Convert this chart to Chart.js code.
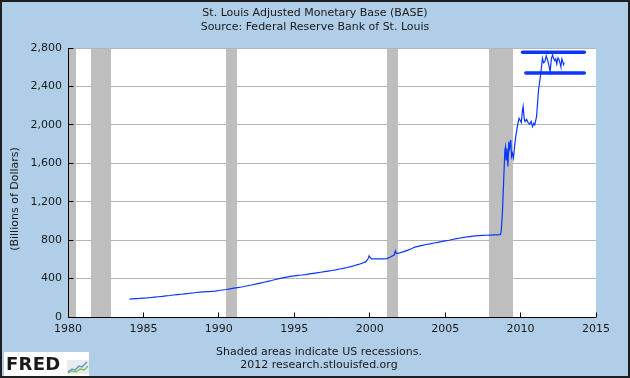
<!DOCTYPE html>
<html><head><meta charset="utf-8">
<script src="https://cdn.jsdelivr.net/npm/chart.js@4.4.1/dist/chart.umd.min.js"></script>
<style>
html,body{margin:0;padding:0;background:#B0CEE8;}
#wrap{position:relative;width:630px;height:378px;overflow:hidden;}
canvas{position:absolute;left:0;top:0;}
#frame{position:absolute;left:0;top:0;width:630px;height:378px;box-sizing:border-box;border:2px solid #1e1e1e;pointer-events:none;}
.foot{position:absolute;left:0;width:638px;text-align:center;font:11px "DejaVu Sans";line-height:13px;color:#1a1a1a;white-space:nowrap;}
#logo{position:absolute;left:4px;top:352px;width:85px;height:26px;background:#fff;}
#logo span{position:absolute;left:2px;top:1px;font:bold 18px "DejaVu Sans";line-height:22px;color:#1a1a1a;letter-spacing:0.3px;}
#logo svg{position:absolute;left:63px;top:8px;}
</style></head>
<body><div id="wrap"><canvas id="c" width="630" height="378"></canvas>
<div class="foot" style="top:345px">Shaded areas indicate US recessions.</div>
<div class="foot" style="top:358px">2012 research.stlouisfed.org</div>
<div id="logo"><span>FRED</span><svg width="22" height="14" viewBox="0 0 22 14"><rect x="0" y="0" width="22" height="14" fill="#e8ecef"/><polyline points="1,12 5,9 8,10 12,6 15,7 20,2" fill="none" stroke="#5a8fc8" stroke-width="1.3"/><polyline points="1,13 5,11 9,12 13,9 17,10 21,6" fill="none" stroke="#7cbf5a" stroke-width="1.3"/></svg></div>
<div id="frame"></div></div>
<script>
const years = [
1984.08,1984.25,1984.5,1984.75,1985.0,1985.25,1985.5,1985.75,1986.0,1986.25,1986.5,1986.75,
1987.0,1987.25,1987.5,1987.75,1988.0,1988.25,1988.5,1988.75,1989.0,1989.25,1989.5,1989.75,
1990.0,1990.25,1990.5,1990.75,1991.0,1991.25,1991.5,1991.75,1992.0,1992.25,1992.5,1992.75,
1993.0,1993.25,1993.5,1993.75,1994.0,1994.25,1994.5,1994.75,1995.0,1995.25,1995.5,1995.75,
1996.0,1996.25,1996.5,1996.75,1997.0,1997.25,1997.5,1997.75,1998.0,1998.25,1998.5,1998.75,
1999.0,1999.25,1999.5,1999.75,1999.9,1999.96,2000.04,2000.12,2000.5,2000.9,2001.15,2001.4,
2001.62,2001.7,2001.76,2001.9,2002.25,2002.5,2002.75,2003.0,2003.25,2003.5,2003.75,2004.0,
2004.25,2004.5,2004.75,2005.0,2005.25,2005.5,2005.75,2006.0,2006.25,2006.5,2006.75,2007.0,
2007.25,2007.5,2007.75,2008.0,2008.25,2008.5,2008.67,2008.72,2008.8,2008.88,2008.96,2009.0,
2009.04,2009.1,2009.16,2009.22,2009.28,2009.35,2009.4,2009.46,2009.53,2009.6,2009.68,2009.8,
2009.9,2010.05,2010.12,2010.17,2010.24,2010.3,2010.4,2010.5,2010.6,2010.7,2010.79,2010.87,
2010.94,2011.06,2011.19,2011.34,2011.45,2011.52,2011.61,2011.7,2011.79,2011.88,2011.96,2012.04,
2012.12,2012.2,2012.27,2012.33,2012.4,2012.48,2012.56,2012.62,2012.67,2012.74,2012.8,2012.85,
2012.89];
const base = [
187,189,191,193,196,199,203,207,211,215,220,224,
229,233,237,241,245,250,255,259,262,264,266,270,
276,281,286,293,300,306,312,320,328,336,344,353,
362,371,380,390,400,408,415,422,428,433,437,442,
448,454,460,466,472,478,484,491,500,507,515,525,
536,547,560,576,608,636,618,604,604,605,608,627,
645,688,660,664,680,694,710,728,738,746,755,762,
770,776,784,793,799,807,815,822,829,835,840,845,
848,850,851,853,855,855,858,898,1093,1424,1738,1772,
1635,1757,1566,1825,1757,1843,1670,1705,1654,1773,1877,1995,
2068,2025,2146,2190,2066,2034,2056,2024,2006,2036,1982,2016,
2000,2086,2363,2536,2693,2647,2658,2717,2676,2617,2554,2687,
2728,2687,2668,2687,2634,2697,2676,2637,2606,2687,2658,2627,
2648];
// hand-drawn marker bars (start year, end year, level)
const upperMark = [[2010.13, 2755], [2014.22, 2755]];
const lowerMark = [[2010.35, 2540], [2014.22, 2540]];
const recessions = [[1980.0,1980.5],[1981.5,1982.88],[1990.45,1991.17],[2001.17,2001.87],[2007.92,2009.5]];
const xTicks = [1980,1985,1990,1995,2000,2005,2010,2015];
const yTicks = [0,400,800,1200,1600,2000,2400,2800];
const titleLines = ['St. Louis Adjusted Monetary Base (BASE)','Source: Federal Reserve Bank of St. Louis'];
const yTitle = '(Billions of Dollars)';

const BG = '#B0CEE8';
const FONT = '"DejaVu Sans", Verdana, sans-serif';
function align(p){ return Math.round(p - 0.5) + 0.5; }

const decor = {
  id: 'decor',
  beforeDraw(chart){
    const {ctx, chartArea:a} = chart;
    ctx.save();
    ctx.fillStyle = BG; ctx.fillRect(0,0,chart.width,chart.height);
    ctx.fillStyle = '#fff'; ctx.fillRect(a.left, a.top, a.right-a.left, a.bottom-a.top);
    ctx.restore();
  },
  beforeDatasetsDraw(chart){
    const {ctx, chartArea:a, scales:{x,y}} = chart;
    ctx.save();
    ctx.fillStyle = '#BEBEBE';
    recessions.forEach(([s,e])=>{
      const x0 = x.getPixelForValue(s), x1 = x.getPixelForValue(e);
      ctx.fillRect(Math.round(x0), a.top+1, Math.round(x1)-Math.round(x0), a.bottom-a.top-1);
    });
    ctx.strokeStyle = '#000'; ctx.lineWidth = 1;
    ctx.beginPath();
    const lx = align(a.left), by = align(a.bottom);
    ctx.moveTo(lx, a.top); ctx.lineTo(lx, by);
    ctx.moveTo(lx, by); ctx.lineTo(a.right, by);
    yTicks.forEach(v=>{ const py = align(y.getPixelForValue(v)); ctx.moveTo(lx, py); ctx.lineTo(lx+5, py); });
    xTicks.forEach(v=>{ const px = align(x.getPixelForValue(v)); ctx.moveTo(px, by); ctx.lineTo(px, by-5); });
    ctx.stroke();
    ctx.restore();
  },
  afterDraw(chart){
    const {ctx} = chart;
    ctx.save();
    ctx.translate(15, 199);
    ctx.rotate(-Math.PI/2);
    ctx.font = '11px ' + FONT;
    ctx.fillStyle = '#1a1a1a';
    ctx.textAlign = 'center'; ctx.textBaseline = 'middle';
    ctx.fillText(yTitle, 0, 0);
    ctx.restore();
  }
};

const BLUE = '#0a35ff';
new Chart(document.getElementById('c'), {
  type: 'line',
  data: {
    datasets: [
      { data: years.map((d,i)=>({x:d, y:base[i]})), borderColor: BLUE, borderWidth: 1.2, pointRadius: 0, tension: 0, fill: false },
      { data: upperMark.map(p=>({x:p[0], y:p[1]})), borderColor: BLUE, borderWidth: 3.5, borderCapStyle: 'round', pointRadius: 0 },
      { data: lowerMark.map(p=>({x:p[0], y:p[1]})), borderColor: BLUE, borderWidth: 3.5, borderCapStyle: 'round', pointRadius: 0 }
    ]
  },
  options: {
    responsive: false,
    animation: false,
    devicePixelRatio: 1,
    layout: { padding: 0 },
    plugins: {
      legend: { display: false },
      tooltip: { enabled: false },
      title: { display: true, text: titleLines, color: '#1a1a1a', font: { family: FONT, size: 11, weight: 'normal', lineHeight: 1.2 }, padding: { top: 7, bottom: 14.6 } }
    },
    scales: {
      x: {
        type: 'linear', min: 1980, max: 2015,
        grid: { display: false, drawTicks: false },
        border: { display: false },
        ticks: { stepSize: 5, callback: v => String(v), color: '#1a1a1a', font: { family: FONT, size: 11 }, padding: 6, maxRotation: 0, autoSkip: false },
        afterFit(s){ s.height = 61; }
      },
      y: {
        min: 0, max: 2800,
        grid: { color: '#B4B4B4', lineWidth: 1, drawTicks: false },
        border: { display: false },
        ticks: { stepSize: 400, callback: v => v.toLocaleString('en-US'), color: '#1a1a1a', font: { family: FONT, size: 11 }, padding: 6 },
        afterFit(s){ s.width = 68; }
      },
      yr: {
        position: 'right', min: 0, max: 2800, display: true,
        grid: { display: false, drawTicks: false },
        border: { display: false },
        ticks: { display: false },
        afterFit(s){ s.width = 34; }
      }
    }
  },
  plugins: [decor]
});
</script>
</body></html>
